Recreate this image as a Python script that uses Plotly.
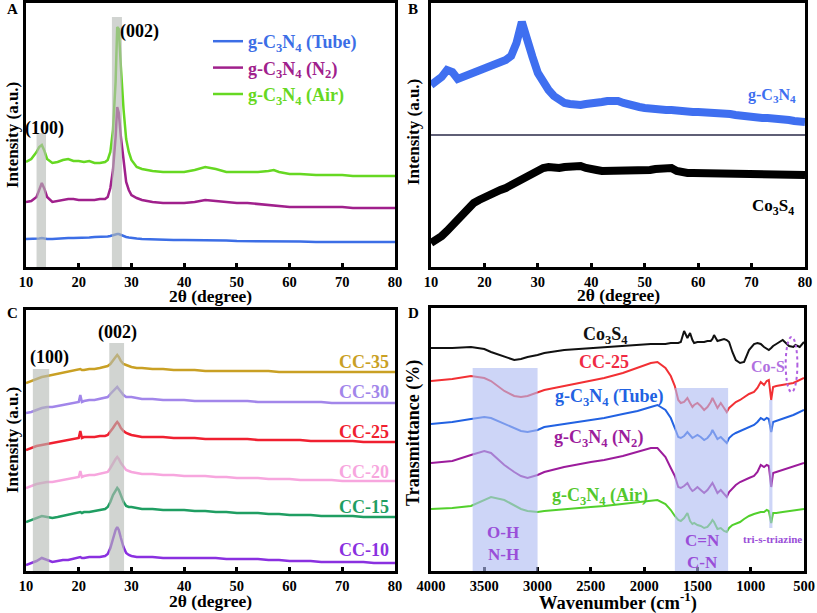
import plotly.graph_objects as go

FONT = "Liberation Serif"

# ---------------- Panel A : XRD of g-C3N4 prepared under different conditions
a_two_theta = [10, 11, 12, 12.5, 13, 13.5, 14, 15, 16, 17,
               18, 19, 20, 21, 22, 23, 24, 25, 25.5, 26,
               26.5, 27, 27.3, 27.6, 28, 28.5, 29, 29.5, 30, 31,
               32, 34, 36, 38, 40, 42, 44, 46, 48, 50,
               52, 54, 56, 57, 58, 60, 62, 65, 68, 70,
               72, 75, 78, 80]
a_air = [105, 108, 115, 120, 122, 116, 108, 104, 105, 107,
         108, 106, 106, 105, 106, 104, 104, 105, 107, 115,
         137, 185, 240, 238, 200, 158, 128, 115, 107, 100,
         98, 96, 95, 95, 95, 97, 100, 98, 95, 95,
         95, 95, 96, 97, 95, 93, 93, 92, 92, 92,
         91, 91, 91, 91]
a_n2 = [65, 66, 70, 78, 84, 78, 70, 65, 66, 67,
        68, 68, 67, 67, 67, 67, 68, 68, 70, 79,
        97, 130, 160, 154, 130, 104, 85, 77, 72, 69,
        67, 65, 64, 64, 64, 65, 67, 66, 65, 64,
        64, 63, 62, 62, 61, 60, 60, 60, 60, 60,
        59, 59, 59, 59]
a_tube = [28, 28, 28, 28.5, 29, 28.5, 28, 28, 28.5, 29,
          29, 29, 29, 29.5, 29.5, 30, 30, 30, 30.5, 31,
          32, 33, 33, 33, 32, 31, 30, 29.5, 29, 28.5,
          28, 27.5, 27, 27, 27, 27, 27, 26.5, 26.5, 26,
          26, 26, 26, 26, 25.5, 25.5, 25.5, 25, 25, 25,
          25, 25, 25, 25]
a_names = ["g-C<sub>3</sub>N<sub>4</sub> (Tube)", "g-C<sub>3</sub>N<sub>4</sub> (N<sub>2</sub>)",
           "g-C<sub>3</sub>N<sub>4</sub> (Air)"]
a_colors = ["#3c6ee6", "#a0208c", "#66d822"]

# ---------------- Panel B : XRD of g-C3N4 and Co3S4
b_two_theta = [10, 11, 12, 13, 14, 15, 16, 17, 18, 19,
               20, 21, 22, 23, 24, 25, 26, 27, 28, 29,
               30, 31, 32, 33, 34, 35, 36, 37, 38, 39,
               40, 41, 42, 43, 44, 45, 46, 47, 48, 49,
               50, 51, 52, 53, 54, 55, 56, 57, 58, 59,
               60, 61, 62, 63, 64, 65, 66, 67, 68, 69,
               70, 71, 72, 73, 74, 75, 76, 77, 78, 79, 80]
b_gcn = [182, 186, 190, 197, 195, 188, 190, 192, 194, 196,
         199, 200, 202, 205, 207, 211, 224, 245, 230, 210,
         194, 184, 177, 171, 167, 164, 163, 162, 162, 163,
         163, 164, 165, 166, 167, 166, 164, 162, 161, 160,
         159, 158, 158, 157, 157, 157, 156, 156, 155, 155,
         155, 155, 154, 154, 154, 154, 153, 152, 151, 151,
         150, 150, 149, 149, 149, 149, 148, 147, 146, 145, 145]
b_co3s4 = [24, 27, 31, 36, 42, 47, 53, 58, 64, 67,
           70, 72, 75, 77, 79, 82, 84, 87, 89, 92,
           95, 99, 100, 99, 99, 100, 101, 102, 101, 99,
           97, 97, 96, 96, 96, 95, 95, 96, 96, 96,
           97, 97, 98, 99, 100, 99, 96, 94, 94, 94,
           94, 94, 93, 93, 93, 93, 93, 93, 92, 92,
           92, 92, 92, 92, 92, 92, 92, 92, 92, 92, 92]
b_separator = 132

# ---------------- Panel C : XRD of CC composites
c_two_theta = [10, 11, 12, 13, 14, 15, 16, 17, 18, 19,
               20, 20.3, 20.6, 21, 22, 23, 24, 25, 25.5, 26,
               26.5, 27, 27.3, 27.6, 28, 28.5, 29, 29.5, 30, 31,
               32, 34, 36, 38, 40, 42, 44, 46, 48, 50,
               52, 54, 56, 58, 60, 62, 64, 66, 68, 70,
               72, 74, 76, 78, 80]
c_cc35 = [187, 189, 191, 193, 194, 195, 196, 197, 198, 199,
          200, 201, 200, 200, 201, 201, 202, 203, 204, 206,
          209, 213, 215, 213, 209, 206, 205, 204, 203, 202,
          202, 201, 201, 200, 200, 200, 199, 199, 199, 199,
          199, 199, 199, 198, 198, 198, 198, 198, 198, 198,
          198, 198, 198, 198, 198]
c_cc30 = [157, 158, 160, 162, 163, 163, 164, 165, 166, 167,
          168, 175, 168, 169, 170, 170, 171, 172, 173, 176,
          179, 182, 183, 181, 178, 175, 173, 173, 173, 172,
          171, 171, 170, 170, 170, 169, 169, 169, 169, 169,
          169, 168, 168, 168, 168, 168, 168, 168, 167, 167,
          167, 167, 167, 167, 167]
c_cc25 = [120, 122, 124, 125, 126, 127, 128, 129, 130, 131,
          132, 139, 132, 133, 133, 133, 134, 134, 135, 138,
          142, 146, 148, 146, 142, 139, 137, 136, 135, 134,
          133, 133, 133, 132, 132, 132, 131, 131, 131, 131,
          131, 130, 130, 130, 130, 130, 129, 129, 129, 129,
          129, 128, 128, 128, 128]
c_cc20 = [82, 84, 86, 87, 88, 88, 89, 90, 91, 92,
          93, 99, 93, 94, 95, 95, 96, 97, 98, 102,
          107, 111, 113, 111, 107, 103, 100, 99, 98, 97,
          96, 96, 95, 95, 94, 94, 94, 93, 93, 92,
          92, 92, 91, 91, 91, 90, 90, 90, 90, 89,
          89, 89, 89, 89, 89]
c_cc15 = [48, 50, 52, 54, 53, 52, 53, 54, 55, 56,
          57, 58, 57, 58, 58, 59, 60, 61, 63, 68,
          75, 80, 82, 80, 74, 68, 64, 63, 63, 62,
          61, 61, 60, 60, 60, 59, 59, 58, 58, 57,
          57, 57, 56, 56, 55, 55, 55, 54, 54, 54,
          54, 53, 53, 53, 53]
c_cc10 = [5, 7, 9, 12, 10, 8, 9, 10, 10, 11,
          12, 13, 12, 12, 13, 13, 13, 14, 16, 22,
          32, 40, 43, 40, 32, 23, 17, 15, 14, 13,
          13, 13, 12, 12, 12, 12, 12, 12, 11, 11,
          11, 11, 10, 10, 9, 9, 9, 8, 8, 8,
          8, 8, 7, 7, 7]
c_names = ["CC-35", "CC-30", "CC-25", "CC-20", "CC-15", "CC-10"]
c_colors = ["#c9a024", "#a286ea", "#f02030", "#f7a6de", "#1f9e62", "#8a30e0"]

# ---------------- Panel D : FTIR
d_wavenumber = [4000, 3800, 3625, 3500, 3437, 3312, 3219, 3156, 3094, 3000,
                2937, 2750, 2500, 2375, 2200, 2062, 1937, 1875, 1800, 1750,
                1712, 1680, 1656, 1625, 1594, 1569, 1547, 1531, 1500, 1469,
                1437, 1406, 1375, 1359, 1344, 1312, 1281, 1250, 1225, 1203,
                1172, 1140, 1100, 1062, 1016, 969, 937, 906, 875, 850,
                830, 808, 790, 760, 700, 640, 600, 580, 540, 500]
d_co3s4 = [220, 220, 221, 219, 216, 211, 208, 209, 211, 213,
           215, 218, 220, 221, 222, 223, 224, 224, 224, 225,
           225, 225, 226, 237, 230, 235, 228, 225, 226, 226,
           226, 227, 227, 229, 233, 227, 228, 229, 228, 226,
           216, 208, 205, 206, 218, 224, 225, 224, 221, 219,
           218, 220, 222, 224, 228, 222, 221, 223, 221, 226]
d_cc25 = [187, 189, 192, 190, 187, 177, 172, 171, 172, 176,
          178, 182, 187, 190, 195, 200, 205, 206, 200, 192,
          182, 168, 165, 166, 170, 165, 161, 163, 165, 162,
          158, 161, 166, 170, 167, 160, 165, 160, 156, 160,
          163, 166, 168, 171, 174, 176, 180, 186, 183, 187,
          188, 168, 181, 182, 183, 184, 185, 186, 188, 190]
d_tube = [144, 146, 149, 151, 150, 144, 140, 137, 136, 138,
          141, 144, 148, 150, 154, 157, 161, 163, 158, 150,
          140, 131, 130, 132, 136, 133, 130, 131, 133, 131,
          128, 130, 134, 138, 135, 129, 131, 128, 125, 130,
          133, 135, 137, 139, 141, 143, 146, 150, 148, 150,
          149, 136, 146, 147, 149, 151, 153, 154, 156, 158]
d_n2 = [105, 107, 113, 117, 115, 103, 96, 92, 90, 93,
        96, 101, 106, 108, 112, 116, 120, 120, 111, 100,
        92, 81, 80, 82, 85, 80, 77, 78, 81, 78,
        75, 78, 82, 85, 82, 75, 78, 74, 71, 76,
        80, 83, 86, 88, 90, 92, 96, 103, 101, 103,
        102, 81, 95, 96, 98, 100, 102, 102, 104, 105]
d_air = [59, 60, 62, 68, 71, 68, 63, 59, 57, 56,
         57, 59, 61, 62, 64, 66, 67, 68, 64, 58,
         52, 48, 47, 50, 55, 47, 44, 45, 43, 42,
         40, 41, 45, 48, 46, 39, 40, 37, 36, 40,
         43, 44, 46, 49, 52, 54, 55, 56, 56, 58,
         57, 45, 55, 55, 56, 57, 57, 58, 58, 59]
d_names = ["Co<sub>3</sub>S<sub>4</sub>", "CC-25", "g-C<sub>3</sub>N<sub>4</sub> (Tube)",
           "g-C<sub>3</sub>N<sub>4</sub> (N<sub>2</sub>)", "g-C<sub>3</sub>N<sub>4</sub> (Air)"]
d_colors = ["#111111", "#f23034", "#2262e2", "#9c1c9c", "#52d02c"]
d_label_colors = ["#111111", "#f02a44", "#2262e2", "#9c1c9c", "#52c82c"]

xrd_ticks = [10, 20, 30, 40, 50, 60, 70, 80]
ir_ticks = [4000, 3500, 3000, 2500, 2000, 1500, 1000, 500]

W, H = 817, 613


def px_x(v):
    return v / W


def px_y(v):
    return 1 - v / H


fig = go.Figure()

# Panel A traces
for ys, name, col in zip([a_tube, a_n2, a_air], a_names, a_colors):
    fig.add_trace(go.Scatter(x=a_two_theta, y=ys, mode="lines", xaxis="x", yaxis="y",
                             name=f'<span style="color:{col}">{name}</span>', legendgroup=name,
                             line=dict(color=col, width=2.5)))

# Panel B traces
fig.add_trace(go.Scatter(x=b_two_theta, y=b_gcn, mode="lines", xaxis="x2", yaxis="y2",
                         showlegend=False, line=dict(color="#3f6ff0", width=8)))
fig.add_trace(go.Scatter(x=b_two_theta, y=b_co3s4, mode="lines", xaxis="x2", yaxis="y2",
                         showlegend=False, line=dict(color="#000000", width=8)))

# Panel C traces
for ys, col in zip([c_cc35, c_cc30, c_cc25, c_cc20, c_cc15, c_cc10], c_colors):
    fig.add_trace(go.Scatter(x=c_two_theta, y=ys, mode="lines", xaxis="x3", yaxis="y3",
                             showlegend=False, line=dict(color=col, width=2.5)))

# Panel D traces
for ys, col in zip([d_co3s4, d_cc25, d_tube, d_n2, d_air], d_colors):
    fig.add_trace(go.Scatter(x=d_wavenumber, y=ys, mode="lines", xaxis="x4", yaxis="y4",
                             showlegend=False, line=dict(color=col, width=2)))

C_YMIN, D_YMIN = -1, -3

# shaded reference bands
a_bands = [(12.0, 13.8, 134), (26.3, 28.2, 250)]
c_bands = [(11.3, 14.4, 201), (25.8, 28.6, 227)]
d_bands = [(3609, 3000, D_YMIN, 200), (1712, 1212, D_YMIN, 180), (826, 796, 40, 168)]
cos_region = (672, 562, 176, 231)

shapes = []
for x0, x1, top in a_bands:
    shapes.append(dict(type="rect", xref="x", yref="y", x0=x0, x1=x1, y0=0, y1=top,
                       fillcolor="#b4bab4", opacity=0.62, line_width=0, layer="above"))
for x0, x1, top in c_bands:
    shapes.append(dict(type="rect", xref="x3", yref="y3", x0=x0, x1=x1, y0=C_YMIN, y1=top,
                       fillcolor="#b4bab4", opacity=0.62, line_width=0, layer="above"))
for x0, x1, y0, y1 in d_bands:
    shapes.append(dict(type="rect", xref="x4", yref="y4", x0=x0, x1=x1, y0=y0, y1=y1,
                       fillcolor="#aebcf2", opacity=0.62, line_width=0, layer="above"))
shapes.append(dict(type="circle", xref="x4", yref="y4", x0=cos_region[0], x1=cos_region[1],
                   y0=cos_region[2], y1=cos_region[3], line=dict(color="#b060e0", width=2, dash="dot"),
                   layer="above"))
shapes.append(dict(type="line", xref="x2 domain", yref="y2", x0=0, x1=1, y0=b_separator, y1=b_separator,
                   line=dict(color="#2a2a48", width=1.5)))

ann = []


def txt(x, y, text, size, color="#000000", xref="x", yref="y", xanchor="center", angle=0):
    ann.append(dict(x=x, y=y, xref=xref, yref=yref, text=text, showarrow=False,
                    font=dict(size=size, color=color, family=FONT, weight="bold"),
                    xanchor=xanchor, yanchor="middle", textangle=angle))


# Panel A labels
txt(31.6, 236, "(002)", 18)
txt(13.6, 139, "(100)", 18)
# Panel B labels
txt(78.6, 172, "g-C<sub>3</sub>N<sub>4</sub>", 16, "#3f6ff0", "x2", "y2", "right")
txt(78.4, 60, "Co<sub>3</sub>S<sub>4</sub>", 17, "#000000", "x2", "y2", "right")
# Panel C labels
c_label_y = [208, 178, 138, 98, 63, 20]
for name, col, yy in zip(c_names, c_colors, c_label_y):
    txt(79.3, yy, name, 18, col, "x3", "y3", "right")
txt(27.3, 238, "(002)", 18, "#000000", "x3", "y3")
txt(14.4, 213, "(100)", 18, "#000000", "x3", "y3")
# Panel D labels
d_label_pos = [(2358, 233), (2377, 206), (2330, 171), (2433, 130), (2414, 72)]
for name, col, (xx, yy) in zip(d_names, d_label_colors, d_label_pos):
    txt(xx, yy, name, 18, col, "x4", "y4")
txt(3324, 36, "O-H", 17, "#9a4ed8", "x4", "y4")
txt(3324, 14, "N-H", 17, "#9a4ed8", "x4", "y4")
txt(1448, 28, "C=N", 17, "#9a4ed8", "x4", "y4")
txt(1448, 6, "C-N", 17, "#9a4ed8", "x4", "y4")
txt(835, 202, "Co-S", 16, "#b070e0", "x4", "y4")
txt(800, 29, "tri-s-triazine", 11, "#9a4ed8", "x4", "y4")

# Panel letters
for letter, x, y in [("A", 12, 9), ("B", 413, 9), ("C", 12, 313), ("D", 413, 313)]:
    txt(px_x(x), px_y(y), letter, 15, "#000000", "paper", "paper")

# Axis titles
txt(px_x(210), px_y(296), "2θ (degree)", 17.5, "#000000", "paper", "paper")
txt(px_x(618), px_y(295), "2θ (degree)", 17.5, "#000000", "paper", "paper")
txt(px_x(210), px_y(601), "2θ (degree)", 17.5, "#000000", "paper", "paper")
txt(px_x(618), px_y(601), "Wavenumber (cm<sup>-1</sup>)", 18.5, "#000000", "paper", "paper")
txt(px_x(12), px_y(135), "Intensity (a.u.)", 17, "#000000", "paper", "paper", angle=-90)
txt(px_x(413), px_y(132), "Intensity (a.u.)", 17, "#000000", "paper", "paper", angle=-90)
txt(px_x(12), px_y(440), "Intensity (a.u.)", 17, "#000000", "paper", "paper", angle=-90)
txt(px_x(413), px_y(433), "Transmittance (%)", 18, "#000000", "paper", "paper", angle=-90)

xcommon = dict(showline=True, mirror=True, linecolor="#000000", linewidth=2.5, showgrid=False,
               zeroline=False, ticks="inside", ticklen=4, tickwidth=2.5, tickcolor="#000000",
               tickfont=dict(size=14.5, family=FONT, color="#000000", weight="bold"))
ycommon = dict(showline=True, mirror=True, linecolor="#000000", linewidth=2.5, showgrid=False,
               zeroline=False, showticklabels=False, ticks="")

fig.update_layout(
    width=W, height=H, margin=dict(l=0, r=0, t=0, b=0),
    paper_bgcolor="white", plot_bgcolor="white", template="none",
    font=dict(family=FONT, size=14, color="#000000", weight="bold"),
    xaxis=dict(domain=[px_x(26), px_x(395)], anchor="y", range=[10, 80], tickvals=xrd_ticks, **xcommon),
    yaxis=dict(domain=[px_y(267), px_y(3)], anchor="x", range=[0, 264], **ycommon),
    xaxis2=dict(domain=[px_x(431), px_x(805)], anchor="y2", range=[10, 80], tickvals=xrd_ticks, **xcommon),
    yaxis2=dict(domain=[px_y(267), px_y(3)], anchor="x2", range=[0, 264], **ycommon),
    xaxis3=dict(domain=[px_x(26), px_x(395)], anchor="y3", range=[10, 80], tickvals=xrd_ticks, **xcommon),
    yaxis3=dict(domain=[px_y(571), px_y(310)], anchor="x3", range=[C_YMIN, 260], **ycommon),
    xaxis4=dict(domain=[px_x(431), px_x(804)], anchor="y4", range=[4000, 500], tickvals=ir_ticks, **xcommon),
    yaxis4=dict(domain=[px_y(571), px_y(308)], anchor="x4", range=[D_YMIN, 260], **ycommon),
    shapes=shapes,
    annotations=ann,
    legend=dict(x=px_x(208), y=px_y(23), xanchor="left", yanchor="top", bgcolor="rgba(0,0,0,0)",
                font=dict(size=18, family=FONT, weight="bold"), tracegroupgap=0, itemwidth=30),
    showlegend=True,
)

fig.write_html("out.html", config={"displayModeBar": False},
               post_script="document.body.style.margin='0px';")
